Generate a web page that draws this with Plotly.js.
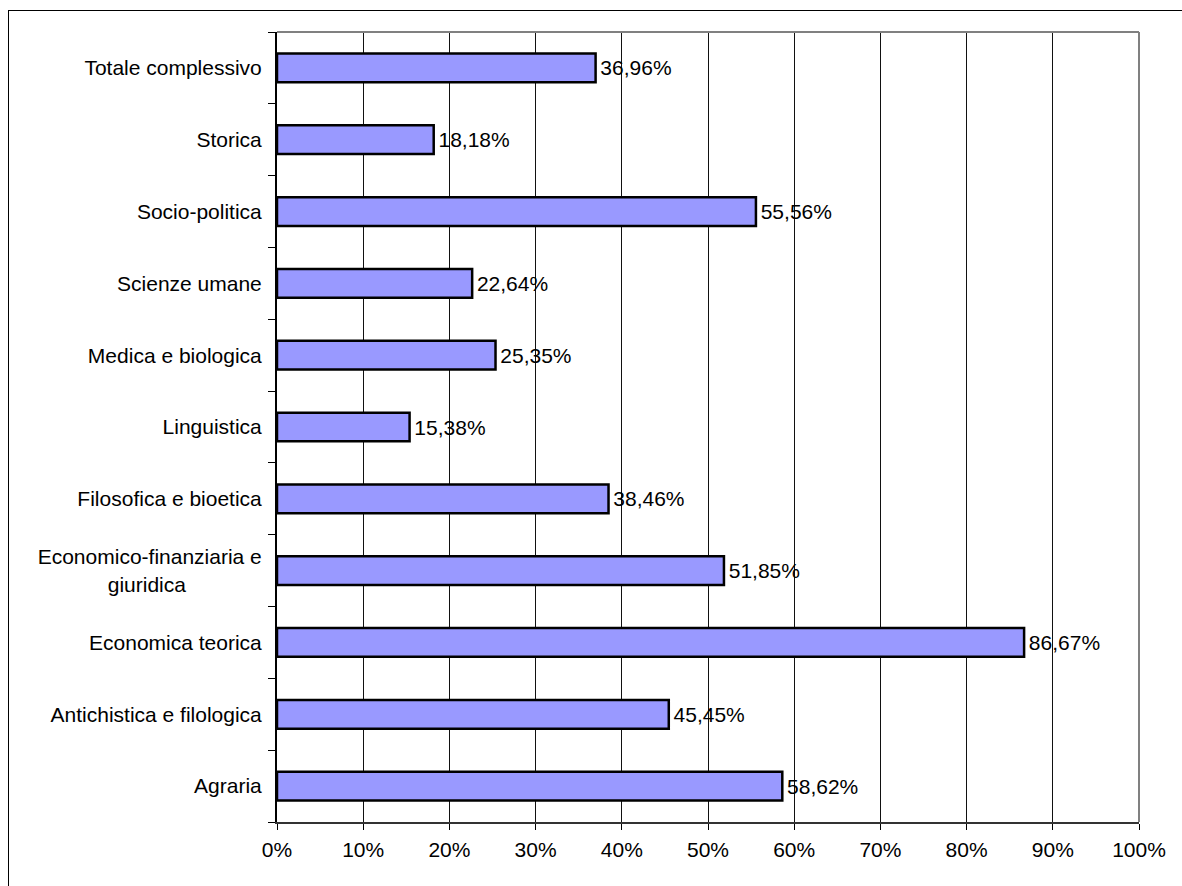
<!DOCTYPE html>
<html>
<head>
<meta charset="utf-8">
<script src="https://cdn.plot.ly/plotly-3.0.1.min.js"></script>
<style>
  html, body { margin: 0; padding: 0; background: #fff; }
  #wrap { position: relative; width: 1182px; height: 886px; }
  #chart { position: absolute; left: 0; top: 0; width: 1182px; height: 886px; }
  #frame { position: absolute; left: 8px; top: 10px; width: 1174px; height: 876px;
           border-top: 1px solid #000; border-left: 1px solid #000; pointer-events: none; }
</style>
</head>
<body>
<div id="wrap">
  <div id="chart"></div>
  <div id="frame"></div>
</div>
<script>
// Categories (bottom to top)
var categories = [
  "Agraria",
  "Antichistica e filologica",
  "Economica teorica",
  "Economico-finanziaria e<br>giuridica\u00a0\u00a0\u00a0\u00a0\u00a0\u00a0\u00a0\u00a0\u00a0\u00a0\u00a0\u00a0\u00a0",
  "Filosofica e bioetica",
  "Linguistica",
  "Medica e biologica",
  "Scienze umane",
  "Socio-politica",
  "Storica",
  "Totale complessivo"
];
// Percent values
var values = [58.62, 45.45, 86.67, 51.85, 38.46, 15.38, 25.35, 22.64, 55.56, 18.18, 36.96];
// X tick values and labels
var xTickVals = [0, 10, 20, 30, 40, 50, 60, 70, 80, 90, 100];
var xTickText = ["0%", "10%", "20%", "30%", "40%", "50%", "60%", "70%", "80%", "90%", "100%"];

var labels = values.map(function (v) { return '\u200a' + v.toFixed(2).replace('.', ',') + '%'; });

var FONT = 'Liberation Sans, Arial, sans-serif';
var FS = 21;

var trace = {
  type: 'bar',
  orientation: 'h',
  y: categories,
  x: values,
  text: labels,
  textposition: 'outside',
  textfont: { family: FONT, size: FS, color: '#000' },
  constraintext: 'none',
  cliponaxis: false,
  marker: { color: '#9999FF', line: { color: '#000', width: 2.5 } },
  hoverinfo: 'none'
};

var layout = {
  width: 1182,
  height: 886,
  margin: { l: 277, r: 43, t: 32, b: 64 },
  paper_bgcolor: '#fff',
  plot_bgcolor: '#fff',
  showlegend: false,
  bargap: 0.6,
  font: { family: FONT, size: FS, color: '#000' },
  xaxis: {
    range: [0, 100],
    tickvals: xTickVals,
    ticktext: xTickText,
    showgrid: true,
    gridcolor: '#111',
    gridwidth: 1,
    zeroline: false,
    showline: true,
    linecolor: '#333',
    linewidth: 2,
    ticks: 'outside',
    ticklen: 6,
    tickcolor: '#000',
    tickwidth: 1,
    ticklabelstandoff: 2,
    tickfont: { family: FONT, size: FS, color: '#000' },
    fixedrange: true
  },
  yaxis: {
    type: 'category',
    categoryorder: 'array',
    categoryarray: categories,
    showgrid: false,
    zeroline: false,
    showline: true,
    linecolor: '#000',
    linewidth: 2,
    ticks: 'outside',
    tickson: 'boundaries',
    ticklen: 7,
    tickcolor: '#000',
    tickwidth: 1,
    ticklabelstandoff: 9,
    tickfont: { family: FONT, size: FS, color: '#000' },
    fixedrange: true
  },
  shapes: [
    { type: 'line', xref: 'paper', yref: 'paper', x0: 0, x1: 1, y0: 1, y1: 1,
      line: { color: '#808080', width: 2 }, layer: 'above' },
    { type: 'line', xref: 'paper', yref: 'paper', x0: 1, x1: 1, y0: 0, y1: 1,
      line: { color: '#808080', width: 2 }, layer: 'above' }
  ]
};

Plotly.newPlot('chart', [trace], layout, { displayModeBar: false, staticPlot: true });
</script>
</body>
</html>
